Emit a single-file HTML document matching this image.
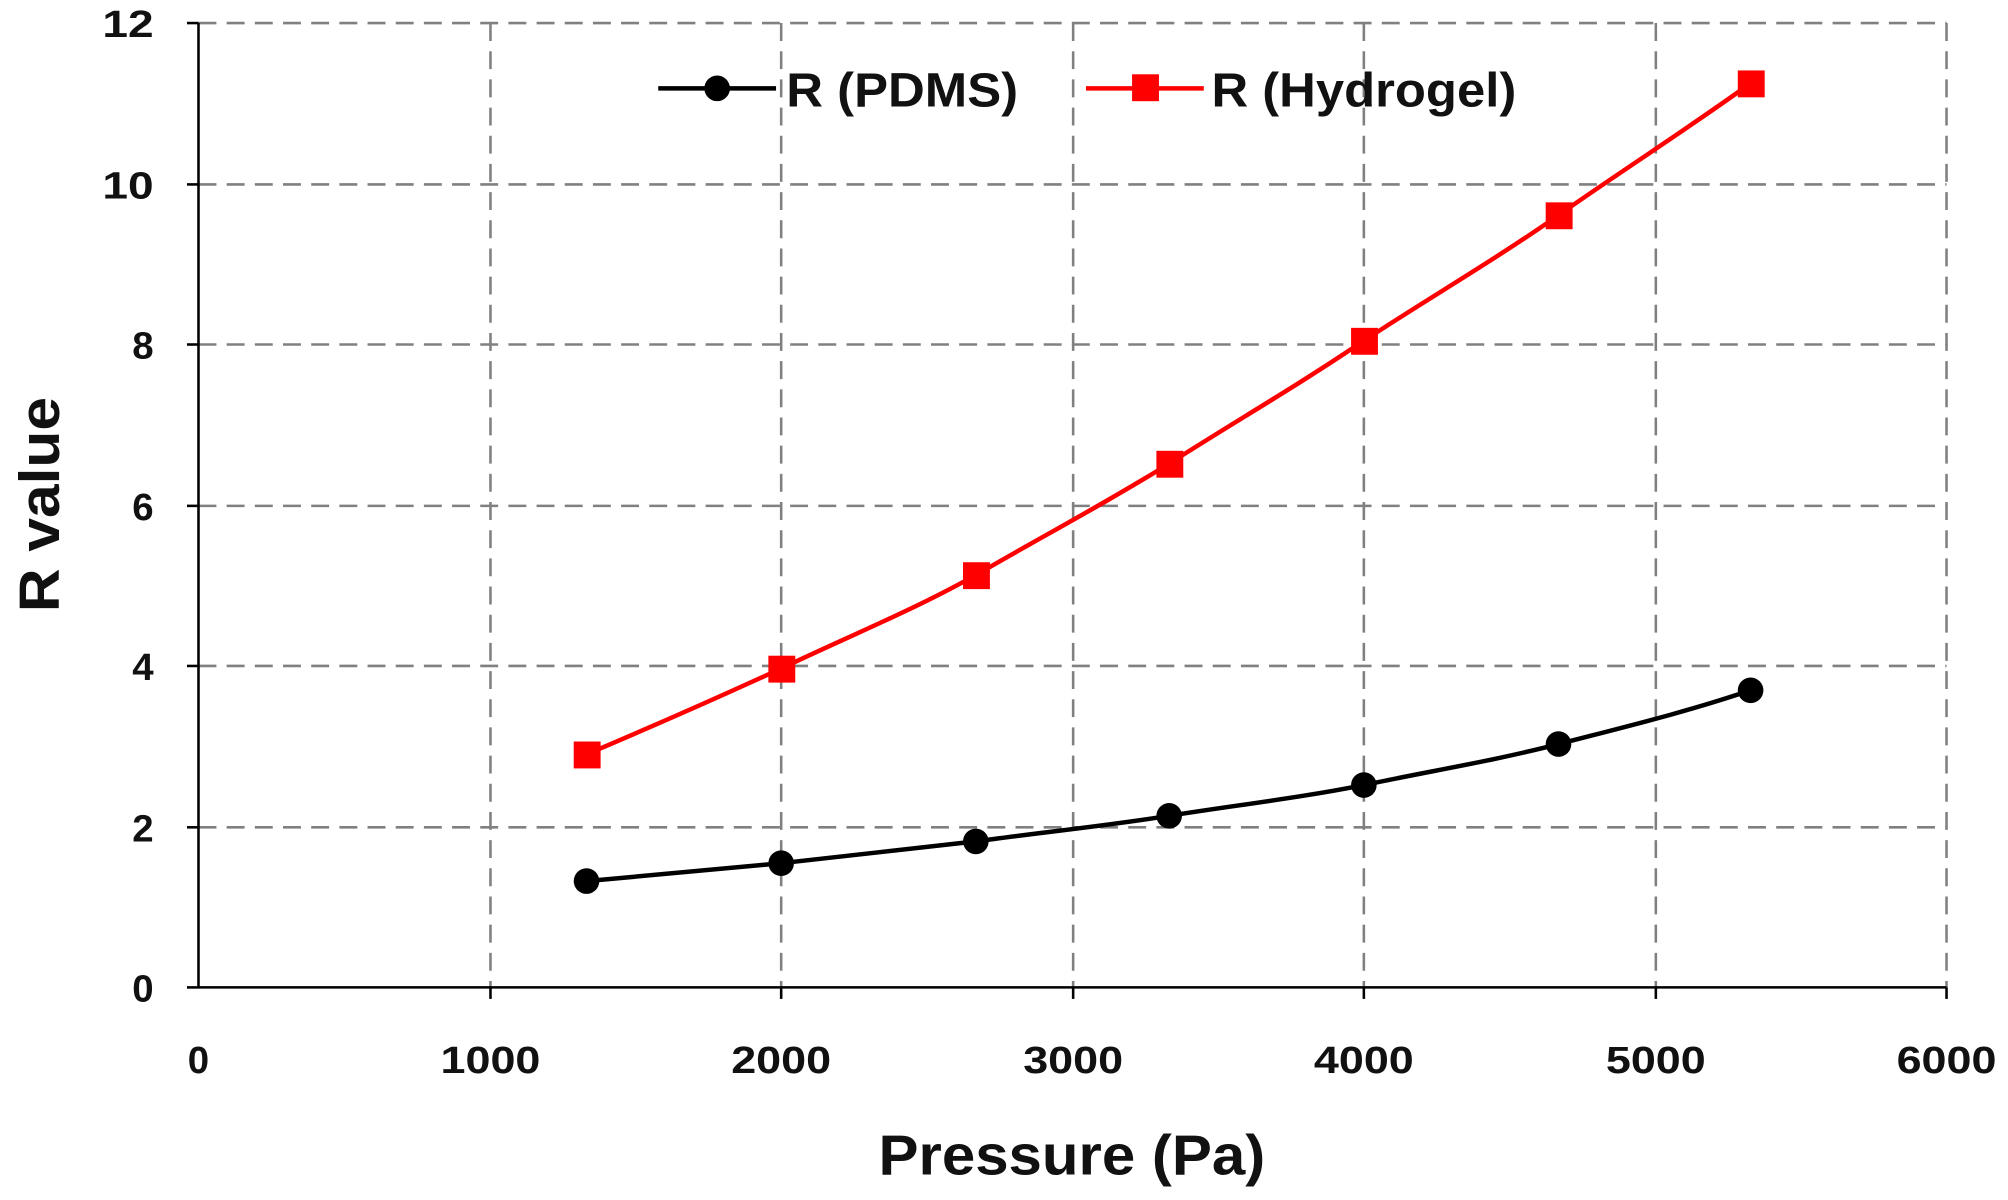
<!DOCTYPE html>
<html><head><style>html,body{margin:0;padding:0;background:#fff;width:2008px;height:1200px;overflow:hidden}</style></head>
<body>
<svg width="2008" height="1200" viewBox="0 0 1568 937" preserveAspectRatio="none" xmlns="http://www.w3.org/2000/svg" font-family="Liberation Sans, sans-serif" font-weight="bold">
<g stroke="#808080" stroke-width="2" stroke-dasharray="14,8" fill="none">
<line x1="155" y1="18" x2="1520" y2="18"/>
<line x1="155" y1="144" x2="1520" y2="144"/>
<line x1="155" y1="269" x2="1520" y2="269"/>
<line x1="155" y1="395" x2="1520" y2="395"/>
<line x1="155" y1="520" x2="1520" y2="520"/>
<line x1="155" y1="646" x2="1520" y2="646"/>
<line x1="383" y1="18" x2="383" y2="771"/>
<line x1="610" y1="18" x2="610" y2="771"/>
<line x1="838" y1="18" x2="838" y2="771"/>
<line x1="1065" y1="18" x2="1065" y2="771"/>
<line x1="1293" y1="18" x2="1293" y2="771"/>
<line x1="1520" y1="18" x2="1520" y2="771"/>
</g>
<g stroke="#000" stroke-width="2">
<line x1="155" y1="18" x2="155" y2="771"/>
<line x1="155" y1="771" x2="1520" y2="771"/>
<line x1="146" y1="18" x2="155" y2="18"/><line x1="146" y1="144" x2="155" y2="144"/><line x1="146" y1="269" x2="155" y2="269"/><line x1="146" y1="395" x2="155" y2="395"/><line x1="146" y1="520" x2="155" y2="520"/><line x1="146" y1="646" x2="155" y2="646"/><line x1="146" y1="771" x2="155" y2="771"/>
<line x1="383" y1="771" x2="383" y2="780"/><line x1="610" y1="771" x2="610" y2="780"/><line x1="838" y1="771" x2="838" y2="780"/><line x1="1065" y1="771" x2="1065" y2="780"/><line x1="1293" y1="771" x2="1293" y2="780"/><line x1="1520" y1="771" x2="1520" y2="780"/>
</g>
<g font-size="30" fill="#111" text-anchor="end">
<text x="120" y="29" textLength="40" lengthAdjust="spacingAndGlyphs">12</text><text x="120" y="155" textLength="40" lengthAdjust="spacingAndGlyphs">10</text><text x="120" y="280">8</text><text x="120" y="406">6</text><text x="120" y="531">4</text><text x="120" y="657">2</text><text x="120" y="782">0</text>
</g>
<g font-size="30" fill="#111" text-anchor="middle">
<text x="155" y="838">0</text><text x="383" y="838" textLength="78" lengthAdjust="spacingAndGlyphs">1000</text><text x="610" y="838" textLength="78" lengthAdjust="spacingAndGlyphs">2000</text><text x="838" y="838" textLength="78" lengthAdjust="spacingAndGlyphs">3000</text><text x="1065" y="838" textLength="78" lengthAdjust="spacingAndGlyphs">4000</text><text x="1293" y="838" textLength="78" lengthAdjust="spacingAndGlyphs">5000</text><text x="1520" y="838" textLength="78" lengthAdjust="spacingAndGlyphs">6000</text>
</g>
<text x="837" y="917" font-size="44" text-anchor="middle" fill="#111" textLength="302" lengthAdjust="spacingAndGlyphs">Pressure (Pa)</text>
<text transform="translate(46,394) rotate(-90)" font-size="44" text-anchor="middle" fill="#111" textLength="168" lengthAdjust="spacingAndGlyphs">R value</text>
<path fill="none" stroke="#000" stroke-width="3.5" d="M458,688 C510,683 560,679 610,674 C660,668 712,663 762,657 C812,650 863,645 913,637 C963,629 1015,623 1065,613 C1117,602 1167,594 1217,581 C1267,568 1317,556 1367,539"/>
<g fill="#000"><circle cx="458" cy="688" r="10"/><circle cx="610" cy="674" r="10"/><circle cx="762" cy="657" r="10"/><circle cx="913" cy="637" r="10"/><circle cx="1065" cy="613" r="10"/><circle cx="1217" cy="581" r="10"/><circle cx="1367" cy="539" r="10"/></g>
<path fill="none" stroke="#f00" stroke-width="3.5" d="M458,589 C510,567 560,545 610,522 C660,498 712,477 762,449 C812,420 863,393 913,362 C963,330 1015,300 1065,266 C1117,232 1167,203 1217,168 C1267,133 1317,101 1367,65"/>
<g fill="#f00"><rect x="448" y="579" width="21" height="21"/><rect x="600" y="512" width="21" height="21"/><rect x="752" y="439" width="21" height="21"/><rect x="903" y="352" width="21" height="21"/><rect x="1055" y="256" width="21" height="21"/><rect x="1207" y="158" width="21" height="21"/><rect x="1357" y="55" width="21" height="21"/></g>
<line x1="514" y1="69" x2="606" y2="69" stroke="#000" stroke-width="3.5"/>
<circle cx="560" cy="69" r="10" fill="#000"/>
<text x="614" y="83" font-size="38" fill="#111" textLength="181" lengthAdjust="spacingAndGlyphs">R (PDMS)</text>
<line x1="848" y1="69" x2="940" y2="69" stroke="#f00" stroke-width="3.5"/>
<rect x="884" y="58" width="21" height="21" fill="#f00"/>
<text x="946" y="83" font-size="38" fill="#111" textLength="238" lengthAdjust="spacingAndGlyphs">R (Hydrogel)</text>
</svg>
</body></html>
